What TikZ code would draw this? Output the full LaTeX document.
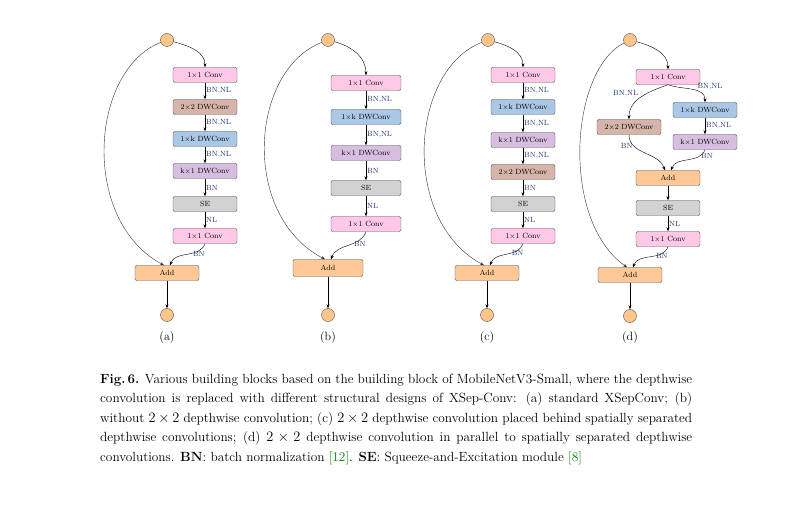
\documentclass[tikz,border=0pt]{standalone}
\usepackage{amsmath}
\usetikzlibrary{arrows.meta}
\begin{document}
\begin{tikzpicture}[x=1pt,y=-1pt,
  box/.style={draw=black!70,rounded corners=2pt,minimum height=15pt,inner sep=0pt,font=\fontsize{7.5}{8}\selectfont},
  w/.style={minimum width=64pt},
  ww/.style={minimum width=70pt},
  io/.style={circle,draw=black!70,fill=orange!45,minimum size=13pt,inner sep=0pt},
  ar/.style={-{Stealth[length=4pt,width=3pt]},black},
  sk/.style={-{Stealth[length=4pt,width=3pt]},black!80},
  lb/.style={font=\fontsize{7.5}{8}\selectfont,text={rgb,1:red,0.15;green,0.2;blue,0.45},inner sep=1pt},
  sub/.style={font=\fontsize{12}{14}\selectfont},
  pk/.style={fill={rgb,255:red,255;green,200;blue,230}},
  br/.style={fill={rgb,255:red,215;green,180;blue,170}},
  bl/.style={fill={rgb,255:red,170;green,200;blue,230}},
  pu/.style={fill={rgb,255:red,215;green,190;blue,225}},
  gr/.style={fill={rgb,255:red,210;green,210;blue,210}},
  or/.style={fill={rgb,255:red,255;green,200;blue,150}}]
\useasboundingbox (0,0) rectangle (792,510);
% (a)
\node[io] (ai) at (167,40) {};
\node[box,w,pk] (a1) at (205,75) {1$\times$1 Conv};
\node[box,w,br] (a2) at (205,107) {2$\times$2 DWConv};
\node[box,w,bl] (a3) at (205,139) {1$\times$k DWConv};
\node[box,w,pu] (a4) at (205,171) {k$\times$1 DWConv};
\node[box,w,gr] (a5) at (205,204) {SE};
\node[box,w,pk] (a6) at (205,236) {1$\times$1 Conv};
\node[box,w,or] (aa) at (167,273) {Add};
\node[io] (ao) at (167,315) {};
\node[sub] (al) at (167,338) {(a)};
\draw[ar] (ai) to[out=-15,in=90] (a1);
\draw[ar] (a1) -- node[lb,right]{BN,NL} (a2);
\draw[ar] (a2) -- node[lb,right]{BN,NL} (a3);
\draw[ar] (a3) -- node[lb,right]{BN,NL} (a4);
\draw[ar] (a4) -- node[lb,right]{BN} (a5);
\draw[ar] (a5) -- node[lb,right]{NL} (a6);
\draw[ar] (a6.south) to[out=-110,in=70] node[lb,right,pos=0.4]{BN} ([xshift=3pt]aa.north);
\draw[sk] (ai) .. controls (90,70) and (80,220) .. ([xshift=-3pt]aa.north);
\draw[ar] (aa) -- (ao);
% (b)
\node[io] (bi) at (328,40) {};
\node[box,ww,pk] (b1) at (366,83) {1$\times$1 Conv};
\node[box,ww,bl] (b2) at (366,117) {1$\times$k DWConv};
\node[box,ww,pu] (b3) at (366,153) {k$\times$1 DWConv};
\node[box,ww,gr] (b4) at (366,188) {SE};
\node[box,ww,pk] (b5) at (366,224) {1$\times$1 Conv};
\node[box,ww,or,minimum height=17pt] (ba) at (328,268) {Add};
\node[io] (bo) at (328,315) {};
\node[sub] (bl) at (328,338) {(b)};
\draw[ar] (bi) to[out=-15,in=90] (b1);
\draw[ar] (b1) -- node[lb,right]{BN,NL} (b2);
\draw[ar] (b2) -- node[lb,right]{BN,NL} (b3);
\draw[ar] (b3) -- node[lb,right]{BN} (b4);
\draw[ar] (b4) -- node[lb,right]{NL} (b5);
\draw[ar] (b5.south) to[out=-110,in=70] node[lb,right,pos=0.4]{BN} ([xshift=3pt]ba.north);
\draw[sk] (bi) .. controls (250,70) and (240,215) .. ([xshift=-3pt]ba.north);
\draw[ar] (ba) -- (bo);
% (c)
\node[io] (ci) at (488,40) {};
\node[box,w,pk] (c1) at (523,75) {1$\times$1 Conv};
\node[box,w,bl] (c2) at (523,107) {1$\times$k DWConv};
\node[box,w,pu] (c3) at (523,140) {k$\times$1 DWConv};
\node[box,w,br] (c4) at (523,172) {2$\times$2 DWConv};
\node[box,w,gr] (c5) at (523,204) {SE};
\node[box,w,pk] (c6) at (523,236) {1$\times$1 Conv};
\node[box,w,or] (ca) at (487,273) {Add};
\node[io] (co) at (487,315) {};
\node[sub] (cl) at (487,338) {(c)};
\draw[ar] (ci) to[out=-15,in=90] (c1);
\draw[ar] (c1) -- node[lb,right]{BN,NL} (c2);
\draw[ar] (c2) -- node[lb,right]{BN,NL} (c3);
\draw[ar] (c3) -- node[lb,right]{BN,NL} (c4);
\draw[ar] (c4) -- node[lb,right]{BN} (c5);
\draw[ar] (c5) -- node[lb,right]{NL} (c6);
\draw[ar] (c6.south) to[out=-110,in=70] node[lb,right,pos=0.4]{BN} ([xshift=3pt]ca.north);
\draw[sk] (ci) .. controls (410,70) and (400,220) .. ([xshift=-3pt]ca.north);
\draw[ar] (ca) -- (co);
% (d)
\node[io] (di) at (630,40) {};
\node[box,w,pk] (d1) at (668,77) {1$\times$1 Conv};
\node[box,w,br] (d2) at (629,127) {2$\times$2 DWConv};
\node[box,w,bl] (d3) at (705,110) {1$\times$k DWConv};
\node[box,w,pu] (d4) at (705,142) {k$\times$1 DWConv};
\node[box,w,or] (da) at (668,178) {Add};
\node[box,w,gr] (d5) at (668,208) {SE};
\node[box,w,pk] (d6) at (668,239) {1$\times$1 Conv};
\node[box,w,or] (db) at (630,275) {Add};
\node[io] (do) at (630,316) {};
\node[sub] (dl) at (630,338) {(d)};
\draw[ar] (di) to[out=-15,in=90] (d1);
\draw[ar] (d1.south) to[out=-160,in=90] node[lb,above left,pos=0.55]{BN,NL} (d2.north);
\draw[ar] (d1.south) to[out=-20,in=90] node[lb,above right,pos=0.6]{BN,NL} (d3.north);
\draw[ar] (d3) -- node[lb,right]{BN,NL} (d4);
\draw[ar] (d2.south) to[out=-90,in=110] node[lb,left,pos=0.25]{BN} ([xshift=-3pt]da.north);
\draw[ar] (d4.south) to[out=-110,in=70] node[lb,right,pos=0.2]{BN} ([xshift=3pt]da.north);
\draw[ar] (da) -- (d5);
\draw[ar] (d5) -- node[lb,right]{NL} (d6);
\draw[ar] (d6.south) to[out=-110,in=70] node[lb,right,pos=0.4]{BN} ([xshift=3pt]db.north);
\draw[sk] (di) .. controls (570,70) and (560,220) .. ([xshift=-3pt]db.north);
\draw[ar] (db) -- (do);
% caption
\node[anchor=north west,text width=592pt,inner sep=0pt,align=justify,font=\fontsize{13.3}{19.4}\selectfont] (cap) at (100,374)
{\textbf{Fig.\,6.} Various building blocks based on the building block of MobileNetV3-Small, where the depthwise convolution is replaced with different structural designs of XSep-Conv: (a) standard XSepConv; (b) without $2\times2$ depthwise convolution; (c) $2\times2$ depthwise convolution placed behind spatially separated depthwise convolutions; (d) $2\times2$ depthwise convolution in parallel to spatially separated depthwise convolutions. \textbf{BN}: batch normalization {\color{green!50!black}[12]}. \textbf{SE}: Squeeze-and-Excitation module {\color{green!50!black}[8]}};
\end{tikzpicture}
\end{document}
